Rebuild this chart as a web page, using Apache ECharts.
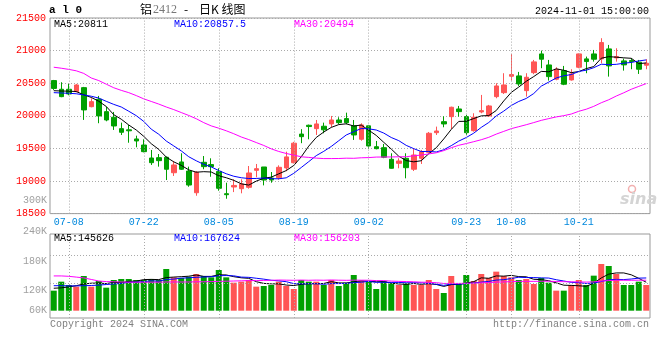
<!DOCTYPE html>
<html><head><meta charset="utf-8">
<script src="https://cdn.jsdelivr.net/npm/echarts@6/dist/echarts.min.js"></script>
<style>html,body{margin:0;padding:0;background:#fff}#c{width:660px;height:360px}</style>
</head><body><div id="c"></div>
<script>
const dates = ['07-04','07-05','07-08','07-09','07-10','07-11','07-12','07-15','07-16','07-17','07-18','07-19',
'07-22','07-23','07-24','07-25','07-26','07-29','07-30','07-31','08-01','08-02',
'08-05','08-06','08-07','08-08','08-09','08-12','08-13','08-14','08-15','08-16',
'08-19','08-20','08-21','08-22','08-23','08-26','08-27','08-28','08-29','08-30',
'09-02','09-03','09-04','09-05','09-06','09-09','09-10','09-11','09-12','09-13','09-18','09-19','09-20',
'09-23','09-24','09-25','09-26','09-27','09-30',
'10-08','10-09','10-10','10-11','10-14','10-15','10-16','10-17','10-18',
'10-21','10-22','10-23','10-24','10-25','10-28','10-29','10-30','10-31','11-01'];
const tickDates = ['07-08','07-22','08-05','08-19','09-02','09-23','10-08','10-21'];

const opens = [20540,20407,20407,20371,20432,20140,20254,20064,19978,19803,
19785,19645,19552,19353,19358,19364,19127,19292,19153,18820,
19287,19252,19147,18805,18908,18882,18903,19164,19215,19046,
19050,19200,19280,19720,19855,19803,19840,19875,19936,19957,
19846,19640,19846,19526,19511,19333,19271,19348,19180,19348,
19440,19741,19910,19987,20105,19987,19772,20059,19998,20294,
20355,20607,20612,20386,20662,20949,20780,20561,20693,20550,
20745,20873,20949,20873,21026,20888,20842,20847,20822,20776];
const closes = [20420,20294,20335,20473,20090,20217,19998,19936,19844,19747,
19770,19614,19450,19281,19312,19180,19246,19180,18938,19133,
19220,19220,18888,18790,18932,18954,19123,19189,19015,19015,
19210,19370,19580,19680,19835,19875,19785,19936,19895,19895,
19706,19860,19537,19496,19364,19195,19307,19204,19399,19450,
19732,19767,19875,20131,20064,19741,19978,20079,20151,20458,
20473,20632,20489,20591,20827,20868,20601,20714,20484,20642,
20949,20832,20868,21123,20765,20908,20781,20832,20714,20806];
const lows = [20397,20285,20315,20361,19937,20130,19886,19916,19783,19706,
19587,19517,19440,19246,19220,19015,19077,19170,18912,18774,
19180,19065,18851,18728,18830,18811,18882,19057,18933,18974,
19020,19150,19270,19580,19640,19706,19732,19824,19870,19870,
19630,19618,19500,19486,19350,19190,19195,19041,19153,19261,
19430,19706,19824,19798,19987,19706,19757,20039,19987,20269,
20335,20540,20458,20294,20638,20730,20540,20545,20470,20540,
20730,20653,20831,20806,20601,20831,20693,20714,20642,20714];
const highs = [20550,20515,20489,20489,20443,20269,20305,20140,20059,19895,
19860,19695,19640,19476,19414,19373,19307,19425,19220,19153,
19383,19348,19196,18974,19026,19026,19230,19261,19215,19138,
19240,19450,19600,19795,19865,19936,19895,19998,19978,20048,
19936,19885,19860,19614,19568,19425,19348,19425,19502,19476,
19752,19834,19992,20140,20151,20013,20039,20320,20167,20500,
20653,20950,20673,20653,20857,21000,20857,20745,20765,20714,
20955,20908,21010,21190,21087,21036,20877,20883,20857,20868];

const ma5 = [20385,20380,20378,20372,20322,20282,20223,20143,20017,19948,
19859,19782,19685,19572,19485,19367,19294,19240,19171,19135,
19143,19138,19080,19050,19010,18957,18937,18998,19043,19059,
19110,19160,19238,19371,19535,19668,19751,19822,19865,19877,
19843,19858,19779,19699,19593,19490,19380,19313,19294,19311,
19418,19510,19645,19791,19914,19916,19958,19999,20003,20081,
20228,20359,20441,20529,20602,20681,20675,20720,20699,20662,
20678,20724,20755,20883,20907,20899,20889,20882,20800,20811];
const ma10 = [20355,20350,20345,20338,20320,20300,20272,20222,20175,20135,
20070,20002,19914,19795,19717,19613,19538,19462,19372,19310,
19255,19216,19160,19111,19073,19050,19038,19039,19046,19035,
19034,19049,19118,19207,19297,19389,19455,19530,19618,19706,
19756,19805,19800,19782,19735,19667,19619,19546,19496,19452,
19454,19445,19479,19542,19612,19667,19734,19822,19897,19998,
20072,20158,20220,20266,20342,20455,20517,20580,20614,20632,
20680,20700,20738,20791,20785,20789,20807,20818,20841,20857.5];
const ma30 = [20745,20730,20712,20690,20650,20580,20540,20485,20430,20390,
20355,20310,20260,20220,20180,20135,20095,20050,20005,19955,
19895,19845,19810,19770,19725,19675,19635,19590,19545,19493,
19453,19422,19397,19371,19362,19351,19344,19344,19345,19350,
19348,19356,19359,19367,19368,19369,19371,19372,19387,19398,
19415,19433,19466,19510,19548,19574,19603,19633,19670,19719,
19761,19803,19833,19863,19896,19930,19957,19983,20002,20027,
20069,20101,20145,20200,20246,20303,20353,20407,20451,20494];

const volumes = [102600,148600,131600,123100,177700,123100,152100,117900,157200,162300,
162300,157200,157200,162300,157200,213500,170800,167400,174200,187900,
177700,170800,208400,170800,143500,148600,157200,123100,126500,131600,
148600,126500,111100,157200,148600,148600,131600,157200,126500,143500,
182800,153800,148600,111100,152100,140100,131600,140100,131600,131600,
157200,111100,90600,177700,140100,182800,152100,187900,167400,199900,
177700,170800,157200,162300,136700,167400,143500,102600,102600,131600,
157200,131600,179400,239100,228900,187900,131600,131600,148600,131600];
const vma5 = [115000,117000,122000,128000,136700,140800,141500,138800,145600,142500,
150400,151400,159200,160300,159200,169500,172200,174200,176600,182800,
175600,175600,183800,183100,174200,168400,165700,148600,139800,137400,
137400,131300,128900,135000,138400,138400,139400,148600,142500,141500,
148300,152800,151000,148000,149700,141100,136700,135000,139100,135000,
138400,134300,124400,133600,135300,140500,148700,168100,166100,178000,
177000,180700,174600,173600,160900,158900,153400,142500,130600,129500,
127500,125100,140500,167800,187200,193400,193400,183800,165700,145626];
const vma10 = [128000,128000,127000,127000,128000,129000,131000,134000,137000,139600,
145600,146500,149000,152900,150900,159900,161800,166700,168400,171000,
172500,173900,179000,179900,178500,172000,170700,166200,161500,155800,
152900,148500,138800,137400,137900,137900,135300,138800,138800,139900,
143400,146100,149800,145200,145600,144700,144700,143000,143500,142300,
139800,135500,129700,136400,135200,139400,141500,146300,149900,156700,
158700,164700,171400,169800,169500,167900,167100,158600,152100,145200,
143200,139300,141500,149200,158400,160400,159300,162200,166800,167624];
const vma30 = [178000,178000,176000,172000,168000,160000,152000,149000,148000,147000,
146000,146000,146000,146000,146000,147000,147000,147000,147000,148000,
148000,149000,150000,151000,152000,153000,154000,154000,155000,155500,
157000,156300,155600,156700,155800,156600,155900,157200,156200,155600,
156300,156200,155900,154200,154000,151500,150200,149300,147900,146000,
145400,143400,139400,139700,139600,140700,140500,142700,144000,146300,
147300,148800,150300,150500,150100,150700,151100,149300,148500,148100,
147200,146500,147500,151800,154300,155900,155900,155700,156200,156203];

const UP = '#ff5555', DOWN = '#00a000';
const MONO = '"Liberation Mono","DejaVu Sans Mono",monospace';
const candleData = dates.map((d, i) => [opens[i], closes[i], lows[i], highs[i]]);
const volData = volumes.map((v, i) => ({ value: v, itemStyle: { color: closes[i] >= opens[i] ? UP : DOWN } }));
const dotted = { color: '#aaaaaa', type: [1, 2], width: 1 };
const vGrid = tickDates.map(d => ({ xAxis: d }));

function txt(x, y, text, fill, opts) {
  opts = opts || {};
  return { type: 'text', x: x, y: y, silent: true, z: 100,
    style: { text: text, fill: fill, font: opts.font || ('10px ' + MONO), align: opts.align || 'left', verticalAlign: 'middle' } };
}

const chart = echarts.init(document.getElementById('c'), null, { renderer: 'canvas' });
chart.setOption({
  animation: false,
  backgroundColor: '#fff',
  grid: [
    { left: 50, right: 10, top: 18, height: 195.6, show: true, borderColor: '#999', borderWidth: 1, backgroundColor: 'transparent' },
    { left: 50, right: 10, top: 234, height: 84, show: true, borderColor: '#999', borderWidth: 1, backgroundColor: 'transparent' }
  ],
  xAxis: [
    { type: 'category', gridIndex: 0, data: dates, boundaryGap: true,
      axisLine: { show: false }, axisTick: { show: false }, splitLine: { show: false },
      axisLabel: { interval: (i, v) => tickDates.indexOf(v) >= 0, color: '#0088dd', fontFamily: MONO, fontSize: 10, margin: 4 } },
    { type: 'category', gridIndex: 1, data: dates, boundaryGap: true,
      axisLine: { show: false }, axisTick: { show: false }, splitLine: { show: false }, axisLabel: { show: false } }
  ],
  yAxis: [
    { type: 'value', gridIndex: 0, min: 18500, max: 21500, interval: 500,
      axisLine: { show: false }, axisTick: { show: false },
      splitLine: { show: true, lineStyle: dotted },
      axisLabel: { color: '#ff0000', fontFamily: MONO, fontSize: 10, margin: 4, padding: [0, 0, 4, 0], formatter: v => String(v) } },
    { type: 'value', gridIndex: 1, min: -37400, max: 392700,
      axisLine: { show: false }, axisTick: { show: false }, splitLine: { show: false }, axisLabel: { show: false } }
  ],
  series: [
    { type: 'candlestick', xAxisIndex: 0, yAxisIndex: 0, data: candleData, barWidth: 5,
      itemStyle: { color: UP, color0: DOWN, borderColor: UP, borderColor0: DOWN, borderWidth: 1 },
      markLine: { silent: true, symbol: ['none', 'none'], label: { show: false }, lineStyle: dotted, animation: false, data: vGrid } },
    { type: 'line', xAxisIndex: 0, yAxisIndex: 0, data: ma5, symbol: 'none', lineStyle: { color: '#000000', width: 1 }, z: 3 },
    { type: 'line', xAxisIndex: 0, yAxisIndex: 0, data: ma10, symbol: 'none', lineStyle: { color: '#0000ff', width: 1 }, z: 3 },
    { type: 'line', xAxisIndex: 0, yAxisIndex: 0, data: ma30, symbol: 'none', lineStyle: { color: '#ff00ff', width: 1 }, z: 3 },
    { type: 'bar', xAxisIndex: 1, yAxisIndex: 1, data: volData, barWidth: 6,
      markLine: { silent: true, symbol: ['none', 'none'], label: { show: false }, lineStyle: dotted, animation: false,
        data: vGrid.concat([{ yAxis: 285000 }, { yAxis: 141800 }]) } },
    { type: 'line', xAxisIndex: 1, yAxisIndex: 1, data: vma5, symbol: 'none', lineStyle: { color: '#000000', width: 1 }, z: 3 },
    { type: 'line', xAxisIndex: 1, yAxisIndex: 1, data: vma10, symbol: 'none', lineStyle: { color: '#0000ff', width: 1 }, z: 3 },
    { type: 'line', xAxisIndex: 1, yAxisIndex: 1, data: vma30, symbol: 'none', lineStyle: { color: '#ff00ff', width: 1 }, z: 3 }
  ],
  graphic: [
    txt(49, 10.5, 'a l 0', '#000', { font: 'bold 11px ' + MONO }),
    txt(140, 9.5, '铝', '#000', { font: '12px "Noto Sans CJK SC"' }),
    txt(153, 9.5, '2412', '#777', { font: '12px "Liberation Serif",serif' }),
    txt(184, 9.5, '-', '#000', { font: '12px "Noto Sans CJK SC"' }),
    txt(199, 9.5, '日K 线图', '#000', { font: '12px "Noto Sans CJK SC"' }),
    txt(649, 11.5, '2024-11-01 15:00:00', '#000', { align: 'right' }),
    txt(54, 24, 'MA5:20811', '#000'),
    txt(174, 24, 'MA10:20857.5', '#0000ff'),
    txt(294, 24, 'MA30:20494', '#ff00ff'),
    txt(54, 238.5, 'MA5:145626', '#000'),
    txt(174, 238.5, 'MA10:167624', '#0000ff'),
    txt(294, 238.5, 'MA30:156203', '#ff00ff'),
    txt(47, 200.5, '300K', '#a0a0a0', { align: 'right' }),
    txt(47, 231, '240K', '#a0a0a0', { align: 'right' }),
    txt(47, 261, '180K', '#a0a0a0', { align: 'right' }),
    txt(47, 290, '120K', '#a0a0a0', { align: 'right' }),
    txt(47, 310, '60K', '#a0a0a0', { align: 'right' }),
    txt(50, 324, 'Copyright 2024 SINA.COM', '#808080'),
    txt(649, 324, 'http://finance.sina.com.cn', '#808080', { align: 'right' }),
    { type: 'circle', shape: { cx: 632, cy: 189, r: 3.5 }, style: { fill: 'none', stroke: '#f2b0b0', lineWidth: 1.5 }, silent: true, z: 1 },
    txt(620, 200, 'sina', '#d4d4d4', { font: 'italic bold 16px "DejaVu Sans",sans-serif' })
  ]
});
</script>
</body></html>
